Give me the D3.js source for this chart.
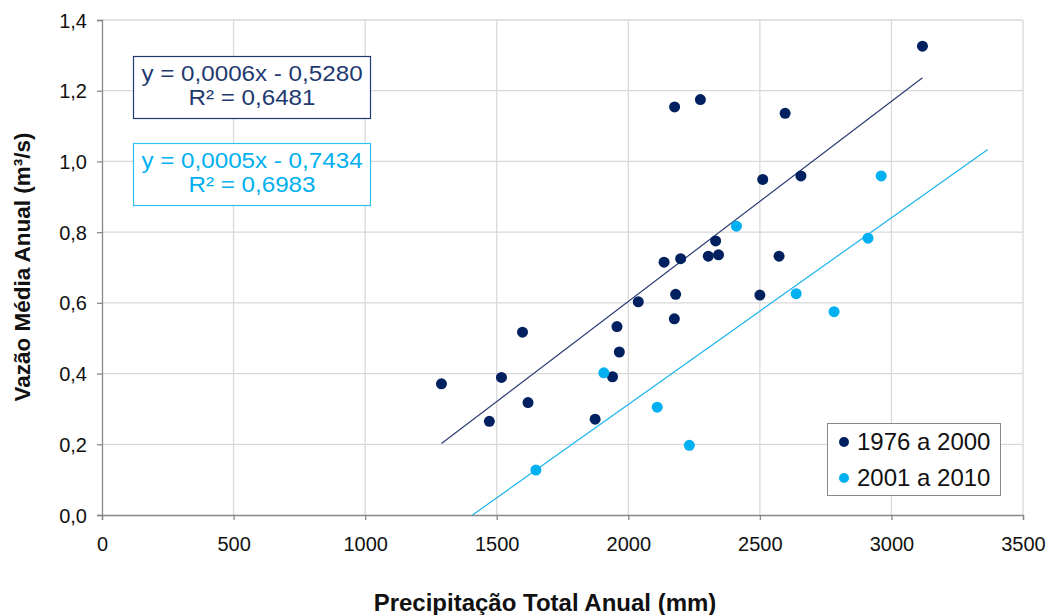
<!DOCTYPE html>
<html>
<head>
<meta charset="utf-8">
<script src="https://cdn.jsdelivr.net/npm/d3@7"></script>
<style>
  body { margin: 0; background: #fff; }
  text { font-family: "Liberation Sans", Arial, sans-serif; }
</style>
</head>
<body>
<div id="chart"></div>
<script>
// precipitation (mm) vs annual flow (m3/s)
var darkX = [1290, 1472, 1518, 1598, 1619, 1874, 1940, 1957, 1966, 2038, 2175, 2180, 2136, 2199, 2304, 2343, 2573, 2500, 3118, 2176, 2274, 2596, 2511, 2656, 2332];
var darkY = [0.371, 0.265, 0.389, 0.517, 0.318, 0.271, 0.391, 0.533, 0.461, 0.603, 0.555, 0.624, 0.715, 0.725, 0.732, 0.736, 0.732, 0.622, 1.326, 1.154, 1.175, 1.136, 0.949, 0.959, 0.775];
var lightX = [1907, 2110, 2232, 1649, 2638, 2782, 2411, 2961, 2911];
var lightY = [0.402, 0.305, 0.197, 0.127, 0.626, 0.575, 0.817, 0.959, 0.783];

var seriesNames = ["1976 a 2000", "2001 a 2010"];
var seriesColors = ["#002060", "#00b0f0"];
var lineColors = ["#2b3b72", "#1ab4ee"];
var eqText = [["y = 0,0006x - 0,5280", "R² = 0,6481"], ["y = 0,0005x - 0,7434", "R² = 0,6983"]];
// trend lines: slope, intercept, x from, x to
var trendSlope = [0.000566, 0.000528];
var trendIntercept = [-0.528, -0.7434];
var trendFrom = [1290, 1408];
var trendTo = [3118, 3366];

var xTicks = [0, 500, 1000, 1500, 2000, 2500, 3000, 3500];
var yTicks = [0, 0.2, 0.4, 0.6, 0.8, 1.0, 1.2, 1.4];

var width = 1052, height = 615;
var pLeft = 102, pRight = 1023, pTop = 20, pBottom = 515;

var svg = d3.select("#chart").append("svg")
    .attr("width", width)
    .attr("height", height);

var x = d3.scaleLinear().domain([0, 3500]).range([pLeft, pRight]);
var y = d3.scaleLinear().domain([0, 1.4]).range([pBottom, pTop]);

// grid
svg.append("g").selectAll("line").data(xTicks.slice(1)).enter().append("line")
    .attr("x1", d => x(d)).attr("x2", d => x(d))
    .attr("y1", pTop).attr("y2", pBottom)
    .attr("stroke", "#d9d9d9").attr("stroke-width", 1.3);
svg.append("g").selectAll("line").data(yTicks.slice(1)).enter().append("line")
    .attr("x1", pLeft).attr("x2", pRight)
    .attr("y1", d => y(d)).attr("y2", d => y(d))
    .attr("stroke", "#d9d9d9").attr("stroke-width", 1.3);

var fmt = d => d3.format(".1f")(d).replace(".", ",");

var yAxis = svg.append("g")
    .attr("transform", `translate(${pLeft},0)`)
    .call(d3.axisLeft(y).tickValues(yTicks).tickFormat(fmt).tickSize(5).tickPadding(10));
var xAxis = svg.append("g")
    .attr("transform", `translate(0,${pBottom})`)
    .call(d3.axisBottom(x).tickValues(xTicks).tickFormat(d3.format("d")).tickSize(5).tickPadding(17));

[xAxis, yAxis].forEach(a => {
    a.select(".domain").attr("stroke", "#888").attr("stroke-width", 1.3);
    a.selectAll(".tick line").attr("stroke", "#888").attr("stroke-width", 1.3);
    a.selectAll(".tick text").attr("font-size", 20).attr("fill", "#111")
        .style("font-family", "'Liberation Sans', Arial, sans-serif");
});
yAxis.selectAll(".tick text").attr("dy", "0.35em");

// trend lines
[0, 1].forEach(i => {
    svg.append("line")
        .attr("x1", x(trendFrom[i]))
        .attr("y1", y(trendSlope[i] * trendFrom[i] + trendIntercept[i]))
        .attr("x2", x(trendTo[i]))
        .attr("y2", y(trendSlope[i] * trendTo[i] + trendIntercept[i]))
        .attr("stroke", lineColors[i])
        .attr("stroke-width", 1.2);
});

// points
var sets = [[darkX, darkY], [lightX, lightY]];
sets.forEach((s, i) => {
    svg.append("g").selectAll("circle").data(s[0]).enter().append("circle")
        .attr("cx", d => x(d))
        .attr("cy", (d, j) => y(s[1][j]))
        .attr("r", 5.5)
        .attr("fill", seriesColors[i]);
});

// equation boxes
var boxTop = [56, 143];
[0, 1].forEach(i => {
    var g = svg.append("g");
    g.append("rect")
        .attr("x", 133.5).attr("y", boxTop[i] + 0.5)
        .attr("width", 237).attr("height", 62)
        .attr("fill", "#fff")
        .attr("stroke", i == 0 ? "#1f3a70" : "#33c0f2")
        .attr("stroke-width", 1.2);
    g.selectAll("text").data(eqText[i]).enter().append("text")
        .attr("transform", (d, j) => `translate(252,${boxTop[i] + 25 + j * 24})scale(1.1,1)`)
        .attr("text-anchor", "middle")
        .attr("font-size", 22)
        .attr("fill", i == 0 ? "#1f3a70" : "#00b0f0")
        .text(d => d);
});

// legend
var leg = svg.append("g");
leg.append("rect")
    .attr("x", 827.5).attr("y", 423.5)
    .attr("width", 173).attr("height", 72)
    .attr("fill", "#fff").attr("stroke", "#888").attr("stroke-width", 1);
seriesNames.forEach((n, i) => {
    leg.append("circle")
        .attr("cx", 844).attr("cy", 442 + i * 36)
        .attr("r", 5).attr("fill", seriesColors[i]);
    leg.append("text")
        .attr("x", 857).attr("y", 450 + i * 36)
        .attr("font-size", 24).attr("fill", "#111")
        .text(n);
});

// axis titles
svg.append("text")
    .attr("x", 545).attr("y", 611)
    .attr("text-anchor", "middle")
    .attr("font-size", 24).attr("font-weight", "bold").attr("fill", "#111")
    .text("Precipitação Total Anual (mm)");
svg.append("text")
    .attr("transform", `translate(30,${267})rotate(-90)`)
    .attr("text-anchor", "middle")
    .attr("font-size", 22.5).attr("font-weight", "bold").attr("fill", "#111")
    .text("Vazão Média Anual (m³/s)");
</script>
</body>
</html>
